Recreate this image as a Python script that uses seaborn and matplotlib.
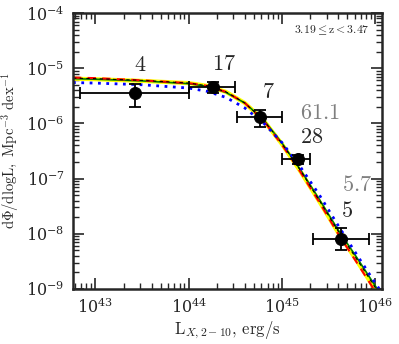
import numpy as np
import pandas as pd
import matplotlib
matplotlib.use("Agg")
import matplotlib.pyplot as plt
import seaborn as sns

# Binned data points (log10 L, log10 phi) with errors
bin_logL = [43.42, 44.26, 44.76, 45.17, 45.63]
bin_logL_lo = [42.84, 44.00, 44.52, 45.00, 45.33]
bin_logL_hi = [44.00, 44.50, 45.00, 45.30, 45.93]
bin_logphi = [-5.45, -5.345, -5.89, -6.65, -8.09]
bin_logphi_lo = [-5.71, -5.45, -6.07, -6.73, -8.29]
bin_logphi_hi = [-5.29, -5.25, -5.75, -6.58, -7.89]
bin_counts = ["4", "17", "7", "28", "5"]

# Model curves
curve_logL = [42.76, 43.0, 43.5, 44.0, 44.2, 44.4, 44.6, 44.8, 45.0, 45.2, 45.4, 45.6, 45.8, 46.0, 46.07]
yellow_logphi = [-5.19, -5.20, -5.23, -5.27, -5.32, -5.43, -5.63, -5.94, -6.38, -6.88, -7.42, -7.98, -8.49, -9.02, -9.20]
red_logphi = [-5.17, -5.18, -5.22, -5.27, -5.32, -5.43, -5.63, -5.95, -6.39, -6.89, -7.43, -8.00, -8.52, -9.05, -9.23]
black_logphi = [-5.18, -5.19, -5.22, -5.27, -5.32, -5.43, -5.63, -5.94, -6.37, -6.86, -7.40, -7.95, -8.46, -8.98, -9.16]
green_logphi = [-5.19, -5.20, -5.23, -5.28, -5.33, -5.44, -5.63, -5.93, -6.36, -6.85, -7.38, -7.93, -8.43, -8.95, -9.12]
blue_logphi = [-5.26, -5.27, -5.30, -5.36, -5.42, -5.53, -5.72, -5.99, -6.35, -6.80, -7.30, -7.85, -8.38, -8.90, -9.07]

# Other labels in grey
grey_labels = ["61.1", "5.7"]
grey_logL = [45.41, 45.80]
grey_logphi = [-5.82, -7.11]

# Axis ticks
x_ticks = [1e43, 1e44, 1e45, 1e46]
y_ticks = [1e-9, 1e-8, 1e-7, 1e-6, 1e-5, 1e-4]

sns.set_style("ticks")
plt.rcParams["mathtext.fontset"] = "cm"
plt.rcParams["font.family"] = ["DejaVu Serif"]

fig = plt.figure(figsize=(3.99, 3.44), dpi=100)
ax = fig.add_axes([73 / 399, 55 / 344, 309 / 399, 276 / 344])

L = 10 ** np.array(curve_logL)
curves = [
    (yellow_logphi, "yellow", "-", 3.0),
    (green_logphi, "green", "-", 1.2),
    (red_logphi, "red", (0, (4, 3)), 1.5),
    (black_logphi, "black", (0, (3, 3)), 0.8),
    (blue_logphi, "blue", (0, (1, 2)), 2.0),
]
for vals, col, ls, lw in curves:
    df = pd.DataFrame({"L": L, "phi": 10 ** np.array(vals)})
    sns.lineplot(data=df, x="L", y="phi", color=col, linestyle=ls, linewidth=lw, ax=ax, sort=False)

x = 10 ** np.array(bin_logL)
y = 10 ** np.array(bin_logphi)
xerr = [x - 10 ** np.array(bin_logL_lo), 10 ** np.array(bin_logL_hi) - x]
yerr = [y - 10 ** np.array(bin_logphi_lo), 10 ** np.array(bin_logphi_hi) - y]
ax.errorbar(x, y, xerr=xerr, yerr=yerr, fmt="none", ecolor="black", elinewidth=1.3, capsize=4, capthick=1.3, zorder=5)
sns.scatterplot(x=x, y=y, color="black", s=75, edgecolor="black", ax=ax, zorder=6)

label_offsets = [(0.06, 0.50), (0.12, 0.42), (0.09, 0.45), (0.15, 0.40), (0.06, 0.51)]
for lx, ly, t, (dx, dy) in zip(bin_logL, bin_logphi, bin_counts, label_offsets):
    ax.text(10 ** (lx + dx), 10 ** (ly + dy), "$" + t + "$", fontsize=16, ha="center", va="center")
for lx, ly, t in zip(grey_logL, grey_logphi, grey_labels):
    ax.text(10 ** lx, 10 ** ly, "$" + t + "$", fontsize=16, ha="center", va="center", color="grey")

ax.text(0.96, 0.96, r"$3.19\leq \mathrm{z}<3.47$", transform=ax.transAxes, fontsize=8.5, ha="right", va="top")

ax.set_xscale("log")
ax.set_yscale("log")
ax.set_xticks(x_ticks)
ax.set_yticks(y_ticks)
ax.set_xlim(10 ** 42.76, 10 ** 46.07)
ax.set_ylim(1e-9, 1e-4)
ax.set_xlabel(r"$\mathrm{L}_{X,2-10},\,\mathrm{erg/s}$", fontsize=12)
ax.set_ylabel(r"$\mathrm{d}\Phi/\mathrm{dlogL},\ \mathrm{Mpc}^{-3}\ \mathrm{dex}^{-1}$", fontsize=10.5)
ax.tick_params(which="both", direction="in", top=True, right=True, labelsize=11.5)
ax.tick_params(which="major", length=8, width=1.2, pad=6)
ax.tick_params(which="minor", length=4, width=1.0)
ax.yaxis.set_minor_locator(matplotlib.ticker.LogLocator(base=10, subs=np.arange(2, 10), numticks=20))
ax.xaxis.set_minor_locator(matplotlib.ticker.LogLocator(base=10, subs=np.arange(2, 10), numticks=20))
ax.yaxis.set_minor_formatter(matplotlib.ticker.NullFormatter())
ax.xaxis.set_minor_formatter(matplotlib.ticker.NullFormatter())
for s in ax.spines.values():
    s.set_linewidth(1.8)
ax.xaxis.labelpad = 2
ax.yaxis.labelpad = 4

fig.savefig("out.png", dpi=100)
